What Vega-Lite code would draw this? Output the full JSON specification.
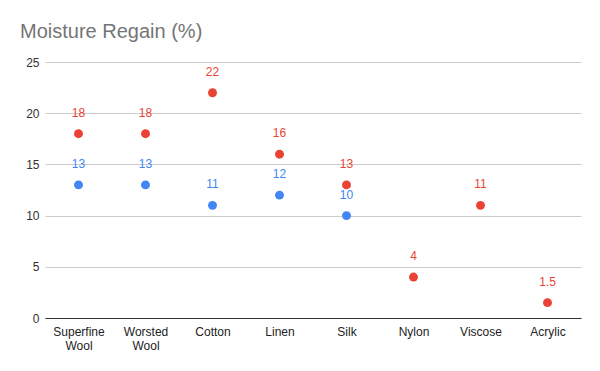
{
  "$schema": "https://vega.github.io/schema/vega-lite/v6.json",
  "width": 536,
  "height": 256,
  "autosize": {"type": "none"},
  "padding": {"left": 45, "top": 62, "right": 19, "bottom": 53},
  "background": "white",
  "title": {
    "text": "Moisture Regain (%)",
    "anchor": "start",
    "frame": "group",
    "dx": -25,
    "offset": 14,
    "font": "Liberation Sans",
    "fontSize": 20,
    "fontWeight": "normal",
    "color": "#757575"
  },
  "config": {
    "view": {"stroke": null},
    "font": "Liberation Sans"
  },
  "data": {
    "values": [
      {"fiber": "Superfine Wool", "series": "Low", "value": 13},
      {"fiber": "Worsted Wool", "series": "Low", "value": 13},
      {"fiber": "Cotton", "series": "Low", "value": 11},
      {"fiber": "Linen", "series": "Low", "value": 12},
      {"fiber": "Silk", "series": "Low", "value": 10},
      {"fiber": "Superfine Wool", "series": "High", "value": 18},
      {"fiber": "Worsted Wool", "series": "High", "value": 18},
      {"fiber": "Cotton", "series": "High", "value": 22},
      {"fiber": "Linen", "series": "High", "value": 16},
      {"fiber": "Silk", "series": "High", "value": 13},
      {"fiber": "Nylon", "series": "High", "value": 4},
      {"fiber": "Viscose", "series": "High", "value": 11},
      {"fiber": "Acrylic", "series": "High", "value": 1.5}
    ]
  },
  "encoding": {
    "x": {
      "field": "fiber",
      "type": "nominal",
      "sort": ["Superfine Wool", "Worsted Wool", "Cotton", "Linen", "Silk", "Nylon", "Viscose", "Acrylic"],
      "scale": {"paddingInner": 0, "paddingOuter": 0},
      "axis": {
        "title": null,
        "labelAngle": 0,
        "labelExpr": "split(datum.label, ' ')",
        "labelFontSize": 12,
        "labelColor": "#222222",
        "labelPadding": 8,
        "labelLineHeight": 14,
        "ticks": false,
        "domainColor": "#333333",
        "grid": false
      }
    },
    "y": {
      "field": "value",
      "type": "quantitative",
      "scale": {"domain": [0, 25]},
      "axis": {
        "title": null,
        "values": [0, 5, 10, 15, 20, 25],
        "labelFontSize": 12,
        "labelColor": "#333333",
        "labelPadding": 6,
        "ticks": false,
        "domain": false,
        "gridColor": "#cccccc"
      }
    },
    "color": {
      "field": "series",
      "type": "nominal",
      "scale": {"domain": ["Low", "High"], "range": ["#4285F4", "#EA4335"]},
      "legend": null
    }
  },
  "layer": [
    {
      "mark": {"type": "point", "filled": true, "opacity": 1, "size": 80, "shape": "circle"}
    },
    {
      "mark": {"type": "text", "dy": -21, "fontSize": 12, "baseline": "middle"},
      "encoding": {
        "text": {"field": "value", "type": "quantitative"}
      }
    }
  ]
}
